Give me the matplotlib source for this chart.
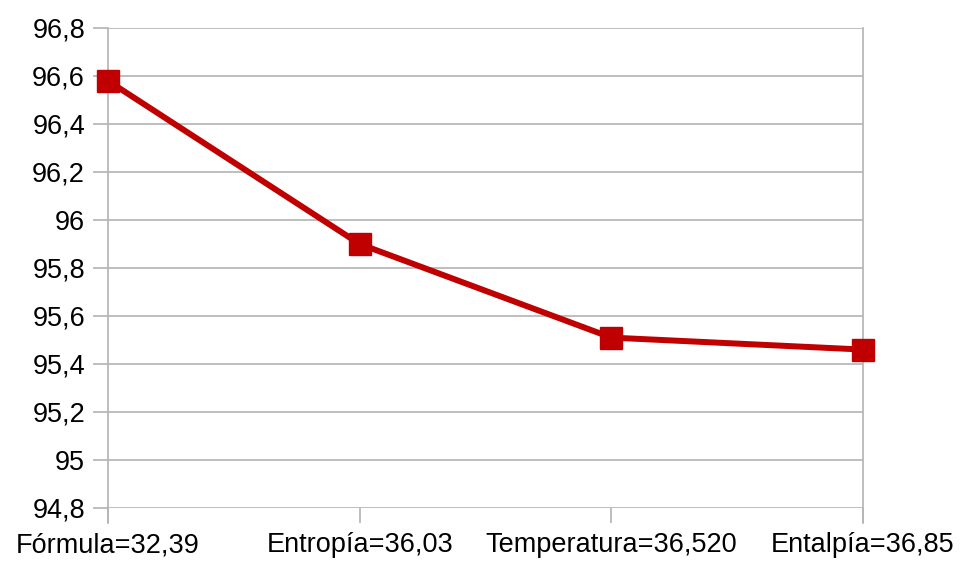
import matplotlib.pyplot as plt
from matplotlib.ticker import FuncFormatter, MultipleLocator

categories = ['Fórmula=32,39', 'Entropía=36,03', 'Temperatura=36,520', 'Entalpía=36,85']
values = [96.58, 95.90, 95.51, 95.46]

plt.rcParams['font.family'] = ['Liberation Sans', 'DejaVu Sans']

fig = plt.figure(figsize=(9.63, 5.62), dpi=100)
ax = fig.add_axes([0.1121, 0.0961, 0.7841, 0.8541])

x = list(range(len(categories)))
ax.plot(x, values, color='#c00000', linewidth=4.3, marker='s', markersize=15.5,
        clip_on=False, zorder=3)

ax.set_xlim(0, len(categories) - 1)
ax.set_ylim(94.8, 96.8)
ax.yaxis.set_major_locator(MultipleLocator(0.2))
ax.yaxis.set_major_formatter(FuncFormatter(lambda v, p: f'{v:.1f}'.rstrip('0').rstrip('.').replace('.', ',')))
ax.set_xticks(x)
ax.set_xticklabels(categories)

# horizontal grid only, the two side lines act as the frame
ax.grid(axis='y', color='#b3b3b3', linewidth=1.2)
for side in ['top', 'bottom']:
    ax.spines[side].set_visible(False)
for side in ['left', 'right']:
    ax.spines[side].set_color('#b3b3b3')
    ax.spines[side].set_linewidth(1.2)
    ax.spines[side].set_bounds(94.8 - 0.064, 96.8)

ax.tick_params(axis='both', colors='#b3b3b3', width=1.2, length=10.5,
               labelsize=19.5, labelcolor='#000000')
ax.tick_params(axis='y', pad=6)
ax.tick_params(axis='x', pad=7)

fig.savefig('out.png', dpi=100)
